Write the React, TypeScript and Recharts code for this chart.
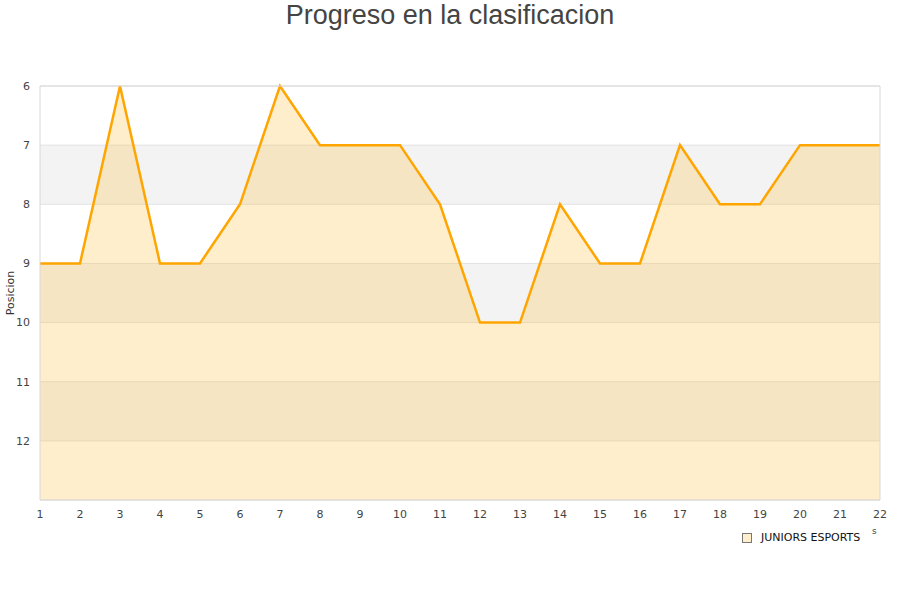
import React from "react";
import {
  ComposedChart,
  Area,
  XAxis,
  YAxis,
  CartesianGrid,
  ReferenceLine,
} from "recharts";

const jornadas = [1, 2, 3, 4, 5, 6, 7, 8, 9, 10, 11, 12, 13, 14, 15, 16, 17, 18, 19, 20, 21, 22];
const posiciones = [9, 9, 6, 9, 9, 8, 6, 7, 7, 7, 8, 10, 10, 8, 9, 9, 7, 8, 8, 7, 7, 7];
const yTicks = [6, 7, 8, 9, 10, 11, 12];

const data = jornadas.map((j, i) => ({ jornada: j, pos: posiciones[i] }));

const font = "'DejaVu Sans', sans-serif";

export default function App() {
  return (
    <div
      style={{
        position: "absolute",
        left: 0,
        top: 0,
        width: 900,
        height: 600,
        background: "#fff",
        fontFamily: font,
      }}
    >
      <div
        style={{
          position: "absolute",
          top: -1,
          left: 0,
          width: 900,
          textAlign: "center",
          fontFamily: "'Liberation Sans', Arial, sans-serif",
          fontSize: 27,
          lineHeight: "32px",
          color: "#444",
        }}
      >
        Progreso en la clasificacion
      </div>
      <ComposedChart
        width={900}
        height={600}
        data={data}
        margin={{ top: 86, right: 20, left: 0, bottom: 70 }}
      >
        <CartesianGrid
          vertical={false}
          stroke="#e2e2e2"
          horizontalFill={["#ffffff", "#f3f3f3"]}
          fillOpacity={1}
        />
        <XAxis
          dataKey="jornada"
          type="number"
          domain={[1, 22]}
          ticks={jornadas}
          interval={0}
          height={30}
          tickLine={false}
          tickMargin={4}
          axisLine={{ stroke: "#d8d8d8" }}
          tick={{ fontSize: 11, fill: "#444", fontFamily: font }}
        />
        <YAxis
          type="number"
          domain={[6, 13]}
          ticks={yTicks}
          reversed
          width={40}
          interval={0}
          tickLine={false}
          tickMargin={4}
          axisLine={{ stroke: "#d8d8d8" }}
          tick={{ fontSize: 11, fill: "#444", fontFamily: font }}
          label={{
            value: "Posicion",
            angle: -90,
            position: "insideLeft",
            offset: 10,
            style: { fontSize: 11, fill: "#333", fontFamily: font, textAnchor: "middle" },
          }}
        />
        <ReferenceLine x={22} stroke="#d8d8d8" />
        <ReferenceLine y={6} stroke="#d8d8d8" />
        <Area
          type="linear"
          dataKey="pos"
          baseValue={13}
          stroke="#ffa500"
          strokeWidth={2.5}
          fill="#ffbb33"
          fillOpacity={0.25}
          dot={false}
          activeDot={false}
          isAnimationActive={false}
        />
      </ComposedChart>
      <div
        style={{
          position: "absolute",
          left: 742,
          top: 533,
          width: 8,
          height: 8,
          background: "#ffeecc",
          border: "1px solid #777",
        }}
      />
      <div
        style={{
          position: "absolute",
          left: 761,
          top: 530,
          fontSize: 11,
          lineHeight: "16px",
          color: "#111",
          whiteSpace: "nowrap",
        }}
      >
        JUNIORS ESPORTS
      </div>
      <div
        style={{
          position: "absolute",
          left: 872,
          top: 525,
          fontSize: 9,
          lineHeight: "12px",
          color: "#444",
        }}
      >
        s
      </div>
    </div>
  );
}
